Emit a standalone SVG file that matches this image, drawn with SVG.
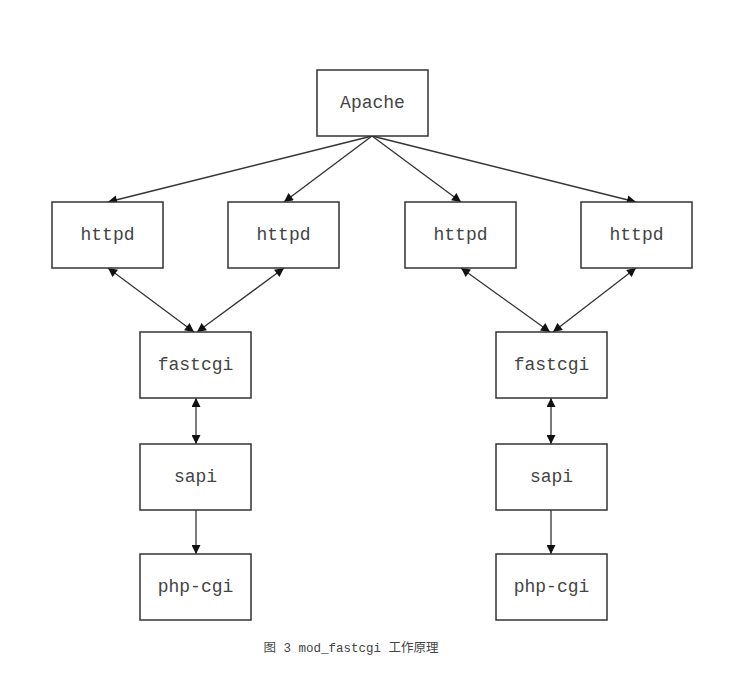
<svg xmlns="http://www.w3.org/2000/svg" width="736" height="676" viewBox="0 0 736 676">
<defs>
<style>
.box{fill:#fff;stroke:#333;stroke-width:1.5}
.lbl{font-family:"Liberation Mono","Noto Sans CJK SC",monospace;font-size:18px;fill:#444;text-anchor:middle;dominant-baseline:central}
.edge{stroke:#333;stroke-width:1.3;fill:none}
.cap{font-family:"Liberation Mono","Noto Sans CJK SC",monospace;font-size:12.5px;fill:#444;text-anchor:middle}
</style>
<marker id="ah" viewBox="0 0 10 10" refX="10" refY="5" markerWidth="10" markerHeight="9" markerUnits="userSpaceOnUse" orient="auto-start-reverse">
<path d="M0,0 L10,5 L0,10 z" fill="#111"/>
</marker>
</defs>
<rect width="736" height="676" fill="#fff"/>
<g id="connectors">
<line class="edge" x1="372" y1="136" x2="108" y2="202" marker-end="url(#ah)"/>
<line class="edge" x1="372" y1="136" x2="284" y2="202" marker-end="url(#ah)"/>
<line class="edge" x1="372" y1="136" x2="461" y2="202" marker-end="url(#ah)"/>
<line class="edge" x1="372" y1="136" x2="636" y2="202" marker-end="url(#ah)"/>
<line class="edge" x1="108" y1="268" x2="194" y2="332" marker-start="url(#ah)" marker-end="url(#ah)"/>
<line class="edge" x1="284" y1="268" x2="197" y2="332" marker-start="url(#ah)" marker-end="url(#ah)"/>
<line class="edge" x1="461" y1="268" x2="550" y2="332" marker-start="url(#ah)" marker-end="url(#ah)"/>
<line class="edge" x1="636" y1="268" x2="553" y2="332" marker-start="url(#ah)" marker-end="url(#ah)"/>
<line class="edge" x1="196" y1="398" x2="196" y2="444" marker-start="url(#ah)" marker-end="url(#ah)"/>
<line class="edge" x1="551" y1="398" x2="551" y2="444" marker-start="url(#ah)" marker-end="url(#ah)"/>
<line class="edge" x1="196" y1="510" x2="196" y2="554" marker-end="url(#ah)"/>
<line class="edge" x1="551" y1="510" x2="551" y2="554" marker-end="url(#ah)"/>
</g>
<g id="apache"><rect class="box" x="317" y="70" width="111" height="66"/><text class="lbl" x="372.5" y="103">Apache</text></g>
<g id="httpd1"><rect class="box" x="52" y="202" width="111" height="66"/><text class="lbl" x="107.5" y="235">httpd</text></g>
<g id="httpd2"><rect class="box" x="228" y="202" width="111" height="66"/><text class="lbl" x="283.5" y="235">httpd</text></g>
<g id="httpd3"><rect class="box" x="405" y="202" width="111" height="66"/><text class="lbl" x="460.5" y="235">httpd</text></g>
<g id="httpd4"><rect class="box" x="581" y="202" width="111" height="66"/><text class="lbl" x="636.5" y="235">httpd</text></g>
<g id="fastcgi1"><rect class="box" x="140" y="332" width="111" height="66"/><text class="lbl" x="195.5" y="365">fastcgi</text></g>
<g id="fastcgi2"><rect class="box" x="496" y="332" width="111" height="66"/><text class="lbl" x="551.5" y="365">fastcgi</text></g>
<g id="sapi1"><rect class="box" x="140" y="444" width="111" height="66"/><text class="lbl" x="195.5" y="477">sapi</text></g>
<g id="sapi2"><rect class="box" x="496" y="444" width="111" height="66"/><text class="lbl" x="551.5" y="477">sapi</text></g>
<g id="phpcgi1"><rect class="box" x="140" y="554" width="111" height="66"/><text class="lbl" x="195.5" y="587">php-cgi</text></g>
<g id="phpcgi2"><rect class="box" x="496" y="554" width="111" height="66"/><text class="lbl" x="551.5" y="587">php-cgi</text></g>
<text class="cap" x="351" y="652">图 3 mod_fastcgi 工作原理</text>
</svg>
